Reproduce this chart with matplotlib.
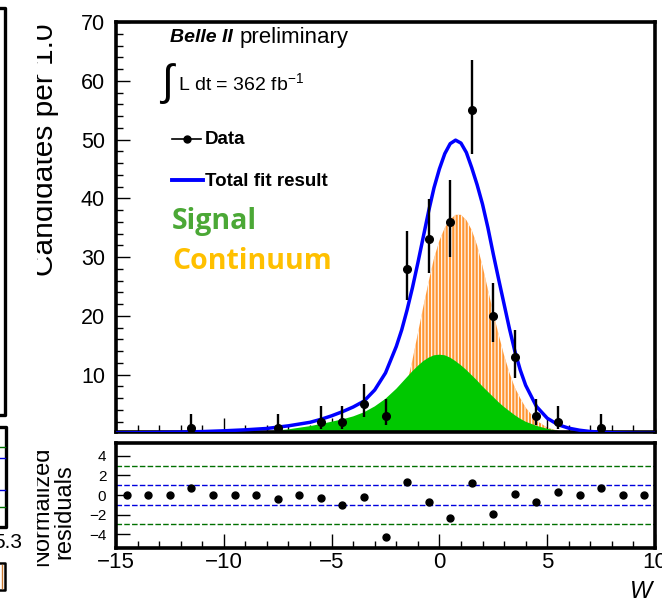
import matplotlib
matplotlib.use('Agg')
import matplotlib.pyplot as plt
from matplotlib.ticker import MultipleLocator, FixedLocator
from matplotlib.patches import Rectangle
from matplotlib.lines import Line2D

plt.rcParams['font.family'] = ['Liberation Sans', 'DejaVu Sans']
plt.rcParams['mathtext.fontset'] = 'custom'
plt.rcParams['mathtext.rm'] = 'Liberation Sans'
plt.rcParams['mathtext.it'] = 'Liberation Sans:italic'
plt.rcParams['mathtext.bf'] = 'Liberation Sans:bold'
plt.rcParams['hatch.color'] = 'white'
plt.rcParams['hatch.linewidth'] = 0.8
plt.rcParams['axes.unicode_minus'] = True

# ---------------- data ----------------
bin_centers = [-14.5, -13.5, -12.5, -11.5, -10.5, -9.5, -8.5, -7.5, -6.5, -5.5,
               -4.5, -3.5, -2.5, -1.5, -0.5, 0.5, 1.5, 2.5, 3.5, 4.5,
               5.5, 6.5, 7.5, 8.5, 9.5]
counts = [0, 0, 0, 1, 0, 0, 0, 1, 0, 2,
          2, 5, 3, 28, 33, 36, 55, 20, 13, 3,
          2, 0, 1, 0, 0]
err_low = [0, 0, 0, 0.83, 0, 0, 0, 0.83, 0, 1.29,
           1.29, 2.16, 1.63, 5.27, 5.73, 5.99, 7.39, 4.44, 3.58, 1.63,
           1.29, 0, 0.83, 0, 0]
err_high = [0, 0, 0, 2.30, 0, 0, 0, 2.30, 0, 2.64,
            2.64, 3.38, 2.92, 6.36, 6.83, 7.10, 8.49, 5.55, 4.67, 2.92,
            2.64, 0, 2.30, 0, 0]
residuals = [0, 0, 0, 0.7, 0, 0, 0, -0.43, 0, -0.33,
             -0.97, -0.2, -4.23, 1.33, -0.73, -2.3, 1.27, -1.9, 0.13, -0.73,
             0.3, 0, 0.67, 0, 0]

curve_x = [-15, -14, -13, -12, -11, -10, -9, -8, -7, -6, -5.5, -5, -4.5, -4, -3.5,
           -3, -2.5, -2, -1.75, -1.5, -1.25, -1, -0.75, -0.5, -0.25, 0, 0.25, 0.5,
           0.75, 1.0, 1.25, 1.5, 1.75, 2.0, 2.25, 2.5, 2.75, 3.0, 3.25, 3.5, 3.75,
           4.0, 4.5, 5.0, 5.5, 6.0, 6.5, 7, 8, 9, 10]
total_fit = [0.08, 0.12, 0.17, 0.23, 0.32, 0.45, 0.62, 0.85, 1.3, 1.9, 2.4, 3.0, 3.7, 4.5, 5.5,
             7.4, 10.3, 14.8, 17.6, 21.0, 24.8, 29.0, 33.4, 37.8, 41.8, 45.0, 47.6, 49.3,
             49.9, 49.4, 47.8, 45.2, 42.3, 39.0, 35.0, 30.5, 26.2, 22.0, 17.8, 14.0, 10.8,
             8.2, 4.6, 2.6, 1.5, 0.9, 0.55, 0.33, 0.12, 0.05, 0.02]
signal = [0.0, 0.01, 0.02, 0.05, 0.08, 0.13, 0.2, 0.35, 0.7, 1.25, 1.6, 2.0, 2.4, 2.9, 3.6,
          4.6, 5.9, 7.6, 8.6, 9.6, 10.6, 11.5, 12.3, 12.9, 13.3, 13.4, 13.3, 12.9,
          12.3, 11.6, 10.8, 9.9, 9.0, 8.0, 7.1, 6.2, 5.3, 4.5, 3.8, 3.1, 2.5,
          2.0, 1.3, 0.8, 0.45, 0.25, 0.14, 0.07, 0.02, 0.0, 0.0]
continuum = [0, 0, 0, 0, 0, 0, 0, 0, 0, 0, 0, 0, 0, 0, 0,
             0.3, 1.2, 3.5, 5.5, 8.5, 12.5, 17.0, 21.5, 25.8, 29.8, 32.8, 35.0, 36.4,
             37.2, 37.2, 36.3, 34.6, 32.0, 28.5, 24.5, 20.5, 16.8, 13.3, 10.3, 7.8, 6.0,
             4.4, 2.2, 1.0, 0.45, 0.2, 0.08, 0.03, 0, 0, 0]

upper_yticks = [10, 20, 30, 40, 50, 60, 70]
resid_yticks = [-4, -2, 0, 2, 4]
x_ticks = [-15, -10, -5, 0, 5, 10]

# ---------------- figure ----------------
W, H = 662, 605
fig = plt.figure(figsize=(W / 100, H / 100), dpi=100)


def fx(px):
    return px / W


def fy(py):
    return 1 - py / H


ax = fig.add_axes([fx(116), fy(431.7), fx(655) - fx(116), fy(22) - fy(431.7)])
axr = fig.add_axes([fx(116), fy(548), fx(655) - fx(116), fy(443) - fy(548)])

# components
ax.fill_between(curve_x, 0, continuum, facecolor='#FF9633', edgecolor='white',
                hatch='|||||', linewidth=0, zorder=1)
ax.fill_between(curve_x, 0, signal, facecolor='#00C800', edgecolor='none',
                linewidth=0, zorder=2)
ax.plot(curve_x, total_fit, color='#0000FF', lw=2.5, zorder=3, solid_capstyle='round')

# data (non-empty bins)
xs = [x for x, c in zip(bin_centers, counts) if c > 0]
ys = [c for c in counts if c > 0]
lo = [e for e, c in zip(err_low, counts) if c > 0]
hi = [e for e, c in zip(err_high, counts) if c > 0]
ax.errorbar(xs, ys, yerr=[lo, hi], fmt='o', color='black', ms=5.5,
            elinewidth=1.7, capsize=0, zorder=5)

ax.set_xlim(-15, 10)
ax.set_ylim(0.3, 70)
ax.yaxis.set_major_locator(FixedLocator(upper_yticks))
ax.yaxis.set_minor_locator(MultipleLocator(2))
ax.xaxis.set_major_locator(FixedLocator(x_ticks))
ax.xaxis.set_minor_locator(MultipleLocator(1))
ax.tick_params(which='both', direction='in', top=False, right=False,
               labelbottom=False, width=1.0)
ax.tick_params(which='major', length=10, labelsize=15.5, pad=8)
ax.tick_params(which='minor', length=5)
for s in ax.spines.values():
    s.set_linewidth(2.6)

# residual panel
axr.axhline(3, color='#007000', ls='--', lw=1.0, dashes=(4, 1.6), zorder=1)
axr.axhline(-3, color='#007000', ls='--', lw=1.0, dashes=(4, 1.6), zorder=1)
axr.axhline(1, color='#0000DD', ls='--', lw=1.0, dashes=(4, 1.6), zorder=1)
axr.axhline(-1, color='#0000DD', ls='--', lw=1.0, dashes=(4, 1.6), zorder=1)
axr.plot(bin_centers, residuals, 'o', color='black', ms=5, zorder=3)
axr.set_xlim(-15, 10)
axr.set_ylim(-5.4, 5.3)
axr.yaxis.set_major_locator(FixedLocator(resid_yticks))
axr.xaxis.set_major_locator(FixedLocator(x_ticks))
axr.xaxis.set_minor_locator(MultipleLocator(1))
axr.tick_params(which='both', direction='in', top=False, right=False, width=1.0)
axr.tick_params(axis='y', which='major', length=10, labelsize=11, pad=7)
axr.tick_params(axis='x', which='major', length=10, labelsize=16, pad=3)
axr.tick_params(which='minor', length=5)
for s in axr.spines.values():
    s.set_linewidth(2.6)

# ---------------- text ----------------
fig.text(fx(170), fy(38), 'Belle II', fontsize=14, fontweight='bold', fontstyle='italic',
         va='center', ha='left')
fig.text(fx(240), fy(38), 'preliminary', fontsize=16, va='center', ha='left')
fig.text(fx(159), fy(84), r'$\int$', fontsize=31, va='center', ha='left')
fig.text(fx(178), fy(83), r'L dt = 362 fb$^{\mathregular{-1}}$', fontsize=14,
         va='center', ha='left')

fig.add_artist(Line2D([fx(172), fx(201)], [fy(139), fy(139)], color='black', lw=1.2))
fig.add_artist(Line2D([fx(186.5)], [fy(139)], color='black', marker='o', ms=5))
fig.text(fx(205), fy(140), 'Data', fontsize=13.5, fontweight='bold', va='center', ha='left')
fig.add_artist(Line2D([fx(172), fx(203)], [fy(180), fy(180)], color='#0000FF', lw=2.8))
fig.text(fx(205), fy(181), 'Total fit result', fontsize=13.5, fontweight='bold',
         va='center', ha='left')

fig.text(fx(172), fy(222), 'Signal', fontsize=20.5, fontweight='bold', color='#4BA836',
         va='center', ha='left', family=['Open Sans', 'DejaVu Sans'])
fig.text(fx(172), fy(261), 'Continuum', fontsize=20.5, fontweight='bold', color='#FFC000',
         va='center', ha='left', family=['Open Sans', 'DejaVu Sans'])

fig.text(fx(45), fy(150), 'Candidates per 1.0', rotation=90, fontsize=21.5,
         va='center', ha='center')
fig.text(fx(42), fy(506), 'Normalized', rotation=90, fontsize=17, va='center', ha='center')
fig.text(fx(64), fy(512), 'residuals', rotation=90, fontsize=17, va='center', ha='center')

fig.text(fx(641), fy(592), 'W', fontsize=17, fontstyle='italic', va='center', ha='center')

# white mask cutting the axis titles on the left (as in the screenshot)
fig.add_artist(Rectangle((fx(9), fy(420)), fx(37) - fx(9), fy(0) - fy(420),
                         transform=fig.transFigure, facecolor='white', edgecolor='none',
                         zorder=10))
fig.add_artist(Rectangle((fx(9), fy(600)), fx(37) - fx(9), fy(430) - fy(600),
                         transform=fig.transFigure, facecolor='white', edgecolor='none',
                         zorder=10))

# fragment of the neighbouring panel at the left edge
fig.add_artist(Line2D([fx(0), fx(5), fx(5), fx(0)], [fy(8), fy(8), fy(415), fy(415)],
                      color='black', lw=2.4, zorder=11))
fig.add_artist(Line2D([fx(0), fx(6), fx(6), fx(0)], [fy(427), fy(427), fy(527), fy(527)],
                      color='black', lw=2.4, zorder=11))
for yy, cc in [(447, '#007000'), (458, '#0000DD'), (490, '#0000DD'), (507, '#007000')]:
    fig.add_artist(Line2D([fx(0), fx(5)], [fy(yy), fy(yy)], color=cc, lw=1.0, zorder=11))
fig.text(fx(22), fy(542), '5.3', fontsize=15, ha='right', va='center', zorder=11)
fig.add_artist(Line2D([fx(0), fx(5), fx(5), fx(0)], [fy(563), fy(563), fy(590), fy(590)],
                      color='black', lw=1.8, zorder=11))
fig.add_artist(Line2D([fx(2), fx(2)], [fy(565), fy(588)], color='#C87830', lw=1.0, zorder=11))

fig.savefig('out.png', dpi=100)
